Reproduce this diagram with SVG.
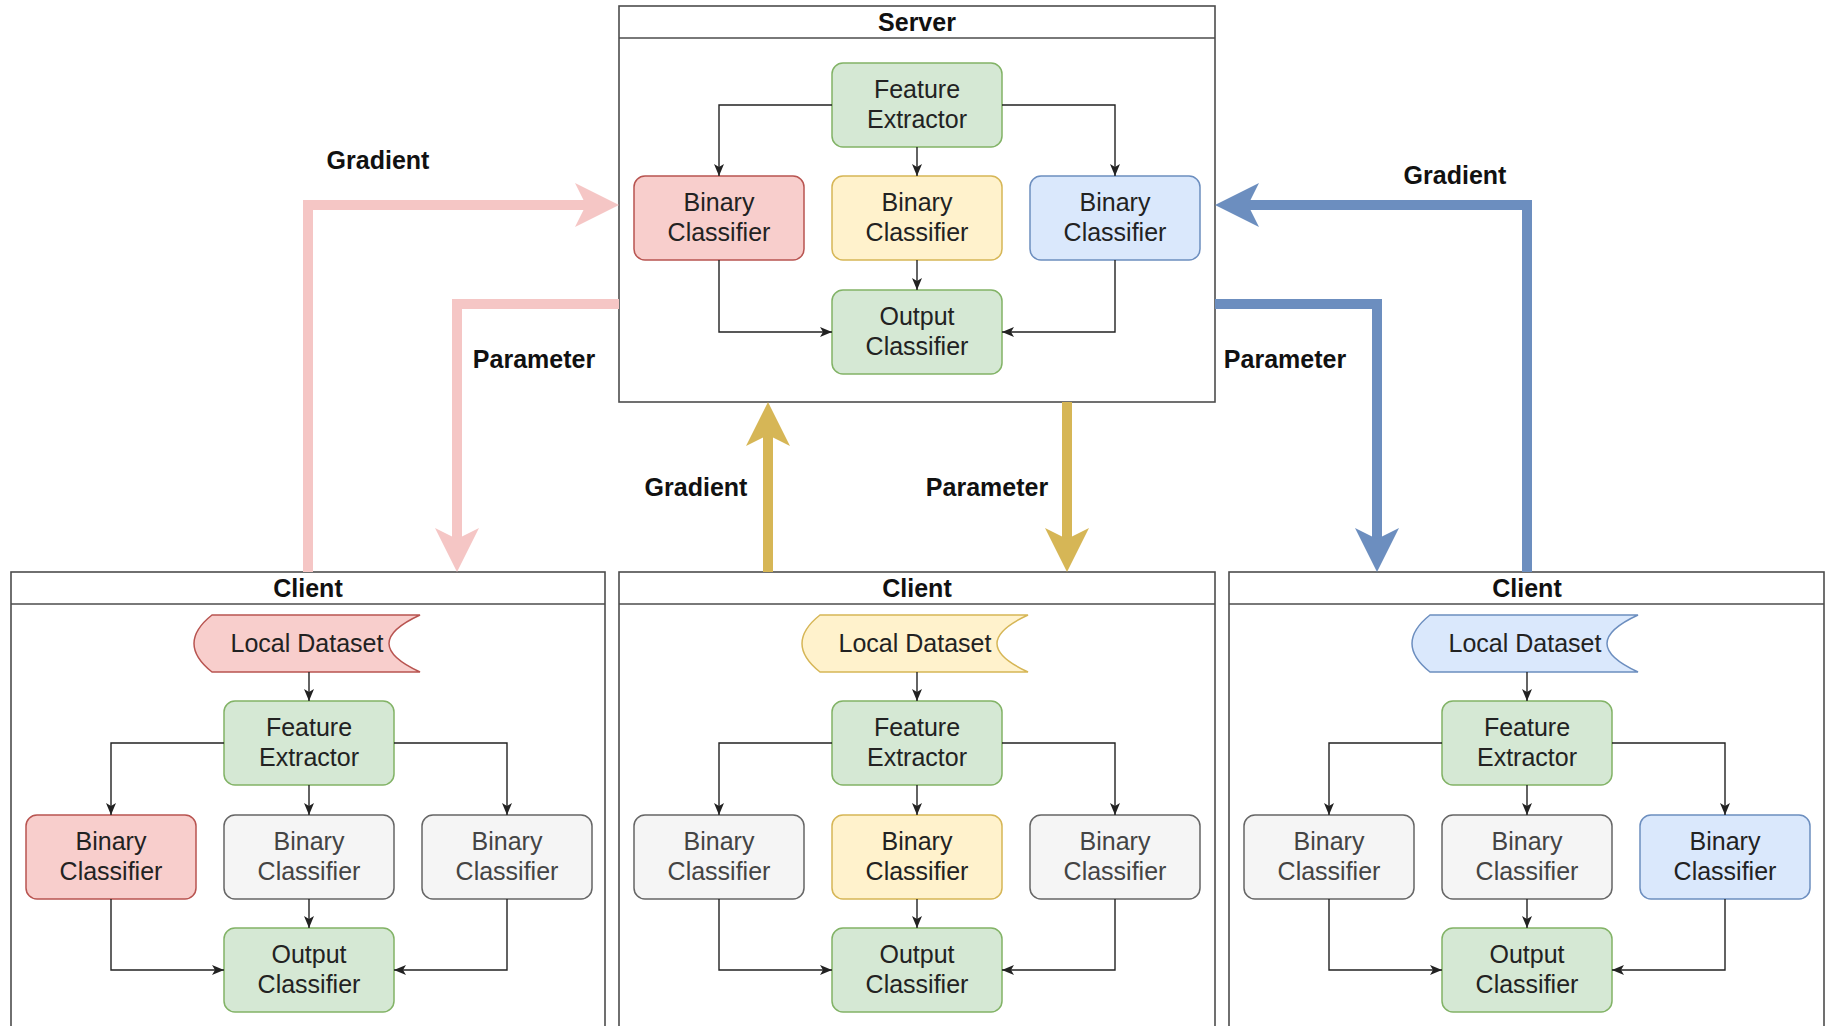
<svg xmlns="http://www.w3.org/2000/svg" width="1833" height="1026" viewBox="0 0 1833 1026">
  <style>
    .frame { fill: #ffffff; stroke: #4d4d4d; stroke-width: 1.6; }
    .title { font-family: "Liberation Sans", Arial, sans-serif; font-size: 25px; font-weight: bold; fill: #111; text-anchor: middle; }
    .lbl { font-family: "Liberation Sans", Arial, sans-serif; font-size: 25px; font-weight: bold; fill: #111; text-anchor: middle; }
    .txt { font-family: "Liberation Sans", Arial, sans-serif; font-size: 25px; fill: #222; text-anchor: middle; }
    .txt.dim { fill: #444; }
    .green { fill: #d5e8d4; stroke: #82b366; stroke-width: 1.5; }
    .red { fill: #f8cecc; stroke: #b85450; stroke-width: 1.5; }
    .yellow { fill: #fff2cc; stroke: #d6b656; stroke-width: 1.5; }
    .blue { fill: #dae8fc; stroke: #6c8ebf; stroke-width: 1.5; }
    .grey { fill: #f5f5f5; stroke: #666666; stroke-width: 1.5; }
    .link { fill: none; stroke: #222; stroke-width: 1.4; marker-end: url(#tip); }
    .flow { fill: none; stroke-width: 10; }
    .flow.pink { stroke: #f5c6c5; marker-end: url(#bigPink); }
    .flow.gold { stroke: #d6b656; marker-end: url(#bigGold); }
    .flow.steel { stroke: #6c8ebf; marker-end: url(#bigSteel); }
  </style>
  <defs>
    <marker id="tip" viewBox="0 0 12 10" refX="12" refY="5" markerWidth="12" markerHeight="10" markerUnits="userSpaceOnUse" orient="auto">
      <path d="M12,5 L0,0 L3,5 L0,10 Z" fill="#222"/>
    </marker>
    <marker id="bigPink" viewBox="0 0 44 44" refX="11" refY="22" markerWidth="44" markerHeight="44" markerUnits="userSpaceOnUse" orient="auto">
      <path d="M44,22 L0,0 L11,22 L0,44 Z" fill="#f5c6c5"/>
    </marker>
    <marker id="bigGold" viewBox="0 0 44 44" refX="11" refY="22" markerWidth="44" markerHeight="44" markerUnits="userSpaceOnUse" orient="auto">
      <path d="M44,22 L0,0 L11,22 L0,44 Z" fill="#d6b656"/>
    </marker>
    <marker id="bigSteel" viewBox="0 0 44 44" refX="11" refY="22" markerWidth="44" markerHeight="44" markerUnits="userSpaceOnUse" orient="auto">
      <path d="M44,22 L0,0 L11,22 L0,44 Z" fill="#6c8ebf"/>
    </marker>
  </defs>

  <rect width="1833" height="1026" fill="#ffffff"/>

  <!-- Server container -->
  <g id="server">
    <rect class="frame" x="619" y="6" width="596" height="396"/>
    <line x1="619" y1="38" x2="1215" y2="38" stroke="#4d4d4d" stroke-width="1.6"/>
    <text class="title" x="917" y="31">Server</text>
  </g>
  <g id="server-feature-extractor">
    <rect class="green" x="832" y="63" width="170" height="84" rx="11"/>
    <text class="txt" x="917" y="98">Feature</text>
    <text class="txt" x="917" y="128">Extractor</text>
  </g>
  <g id="server-binary-1">
    <rect class="red" x="634" y="176" width="170" height="84" rx="11"/>
    <text class="txt" x="719" y="211">Binary</text>
    <text class="txt" x="719" y="241">Classifier</text>
  </g>
  <g id="server-binary-2">
    <rect class="yellow" x="832" y="176" width="170" height="84" rx="11"/>
    <text class="txt" x="917" y="211">Binary</text>
    <text class="txt" x="917" y="241">Classifier</text>
  </g>
  <g id="server-binary-3">
    <rect class="blue" x="1030" y="176" width="170" height="84" rx="11"/>
    <text class="txt" x="1115" y="211">Binary</text>
    <text class="txt" x="1115" y="241">Classifier</text>
  </g>
  <g id="server-output-classifier">
    <rect class="green" x="832" y="290" width="170" height="84" rx="11"/>
    <text class="txt" x="917" y="325">Output</text>
    <text class="txt" x="917" y="355">Classifier</text>
  </g>

  <!-- Client A (left) -->
  <g id="client-a">
    <rect class="frame" x="11" y="572" width="594" height="460"/>
    <line x1="11" y1="604" x2="605" y2="604" stroke="#4d4d4d" stroke-width="1.6"/>
    <text class="title" x="308" y="597">Client</text>
  </g>
  <g id="client-a-dataset">
    <path class="red" d="M212,615 H420 Q358,643.5 420,672 H212 Q176,643.5 212,615 Z"/>
    <text class="txt" x="307" y="652">Local Dataset</text>
  </g>
  <g id="client-a-feature-extractor">
    <rect class="green" x="224" y="701" width="170" height="84" rx="11"/>
    <text class="txt" x="309" y="736">Feature</text>
    <text class="txt" x="309" y="766">Extractor</text>
  </g>
  <g id="client-a-binary-1">
    <rect class="red" x="26" y="815" width="170" height="84" rx="11"/>
    <text class="txt" x="111" y="850">Binary</text>
    <text class="txt" x="111" y="880">Classifier</text>
  </g>
  <g id="client-a-binary-2">
    <rect class="grey" x="224" y="815" width="170" height="84" rx="11"/>
    <text class="txt dim" x="309" y="850">Binary</text>
    <text class="txt dim" x="309" y="880">Classifier</text>
  </g>
  <g id="client-a-binary-3">
    <rect class="grey" x="422" y="815" width="170" height="84" rx="11"/>
    <text class="txt dim" x="507" y="850">Binary</text>
    <text class="txt dim" x="507" y="880">Classifier</text>
  </g>
  <g id="client-a-output-classifier">
    <rect class="green" x="224" y="928" width="170" height="84" rx="11"/>
    <text class="txt" x="309" y="963">Output</text>
    <text class="txt" x="309" y="993">Classifier</text>
  </g>

  <!-- Client B (middle) -->
  <g id="client-b">
    <rect class="frame" x="619" y="572" width="596" height="460"/>
    <line x1="619" y1="604" x2="1215" y2="604" stroke="#4d4d4d" stroke-width="1.6"/>
    <text class="title" x="917" y="597">Client</text>
  </g>
  <g id="client-b-dataset">
    <path class="yellow" d="M820,615 H1028 Q966,643.5 1028,672 H820 Q784,643.5 820,615 Z"/>
    <text class="txt" x="915" y="652">Local Dataset</text>
  </g>
  <g id="client-b-feature-extractor">
    <rect class="green" x="832" y="701" width="170" height="84" rx="11"/>
    <text class="txt" x="917" y="736">Feature</text>
    <text class="txt" x="917" y="766">Extractor</text>
  </g>
  <g id="client-b-binary-1">
    <rect class="grey" x="634" y="815" width="170" height="84" rx="11"/>
    <text class="txt dim" x="719" y="850">Binary</text>
    <text class="txt dim" x="719" y="880">Classifier</text>
  </g>
  <g id="client-b-binary-2">
    <rect class="yellow" x="832" y="815" width="170" height="84" rx="11"/>
    <text class="txt" x="917" y="850">Binary</text>
    <text class="txt" x="917" y="880">Classifier</text>
  </g>
  <g id="client-b-binary-3">
    <rect class="grey" x="1030" y="815" width="170" height="84" rx="11"/>
    <text class="txt dim" x="1115" y="850">Binary</text>
    <text class="txt dim" x="1115" y="880">Classifier</text>
  </g>
  <g id="client-b-output-classifier">
    <rect class="green" x="832" y="928" width="170" height="84" rx="11"/>
    <text class="txt" x="917" y="963">Output</text>
    <text class="txt" x="917" y="993">Classifier</text>
  </g>

  <!-- Client C (right) -->
  <g id="client-c">
    <rect class="frame" x="1229" y="572" width="595" height="460"/>
    <line x1="1229" y1="604" x2="1824" y2="604" stroke="#4d4d4d" stroke-width="1.6"/>
    <text class="title" x="1527" y="597">Client</text>
  </g>
  <g id="client-c-dataset">
    <path class="blue" d="M1430,615 H1638 Q1576,643.5 1638,672 H1430 Q1394,643.5 1430,615 Z"/>
    <text class="txt" x="1525" y="652">Local Dataset</text>
  </g>
  <g id="client-c-feature-extractor">
    <rect class="green" x="1442" y="701" width="170" height="84" rx="11"/>
    <text class="txt" x="1527" y="736">Feature</text>
    <text class="txt" x="1527" y="766">Extractor</text>
  </g>
  <g id="client-c-binary-1">
    <rect class="grey" x="1244" y="815" width="170" height="84" rx="11"/>
    <text class="txt dim" x="1329" y="850">Binary</text>
    <text class="txt dim" x="1329" y="880">Classifier</text>
  </g>
  <g id="client-c-binary-2">
    <rect class="grey" x="1442" y="815" width="170" height="84" rx="11"/>
    <text class="txt dim" x="1527" y="850">Binary</text>
    <text class="txt dim" x="1527" y="880">Classifier</text>
  </g>
  <g id="client-c-binary-3">
    <rect class="blue" x="1640" y="815" width="170" height="84" rx="11"/>
    <text class="txt" x="1725" y="850">Binary</text>
    <text class="txt" x="1725" y="880">Classifier</text>
  </g>
  <g id="client-c-output-classifier">
    <rect class="green" x="1442" y="928" width="170" height="84" rx="11"/>
    <text class="txt" x="1527" y="963">Output</text>
    <text class="txt" x="1527" y="993">Classifier</text>
  </g>

  <!-- Connectors -->
  <g id="connectors">
    <!-- server internals -->
    <polyline class="link" points="832,105 719,105 719,176"/>
    <polyline class="link" points="1002,105 1115,105 1115,176"/>
    <polyline class="link" points="917,147 917,176"/>
    <polyline class="link" points="917,260 917,290"/>
    <polyline class="link" points="719,260 719,332 832,332"/>
    <polyline class="link" points="1115,260 1115,332 1002,332"/>

    <!-- client A internals -->
    <polyline class="link" points="309,672 309,701"/>
    <polyline class="link" points="224,743 111,743 111,815"/>
    <polyline class="link" points="394,743 507,743 507,815"/>
    <polyline class="link" points="309,785 309,815"/>
    <polyline class="link" points="309,899 309,928"/>
    <polyline class="link" points="111,899 111,970 224,970"/>
    <polyline class="link" points="507,899 507,970 394,970"/>

    <!-- client B internals -->
    <polyline class="link" points="917,672 917,701"/>
    <polyline class="link" points="832,743 719,743 719,815"/>
    <polyline class="link" points="1002,743 1115,743 1115,815"/>
    <polyline class="link" points="917,785 917,815"/>
    <polyline class="link" points="917,899 917,928"/>
    <polyline class="link" points="719,899 719,970 832,970"/>
    <polyline class="link" points="1115,899 1115,970 1002,970"/>

    <!-- client C internals -->
    <polyline class="link" points="1527,672 1527,701"/>
    <polyline class="link" points="1442,743 1329,743 1329,815"/>
    <polyline class="link" points="1612,743 1725,743 1725,815"/>
    <polyline class="link" points="1527,785 1527,815"/>
    <polyline class="link" points="1527,899 1527,928"/>
    <polyline class="link" points="1329,899 1329,970 1442,970"/>
    <polyline class="link" points="1725,899 1725,970 1612,970"/>

    <!-- exchange between clients and server -->
    <polyline class="flow pink" points="308,572 308,205 586,205"/>
    <polyline class="flow pink" points="619,304 457,304 457,539"/>
    <polyline class="flow gold" points="768,572 768,435"/>
    <polyline class="flow gold" points="1067,402 1067,539"/>
    <polyline class="flow steel" points="1527,572 1527,205 1248,205"/>
    <polyline class="flow steel" points="1215,304 1377,304 1377,539"/>
  </g>

  <!-- Flow labels -->
  <g id="labels">
    <text class="lbl" x="378" y="169">Gradient</text>
    <text class="lbl" x="534" y="368">Parameter</text>
    <text class="lbl" x="1455" y="184">Gradient</text>
    <text class="lbl" x="1285" y="368">Parameter</text>
    <text class="lbl" x="696" y="496">Gradient</text>
    <text class="lbl" x="987" y="496">Parameter</text>
  </g>
</svg>
